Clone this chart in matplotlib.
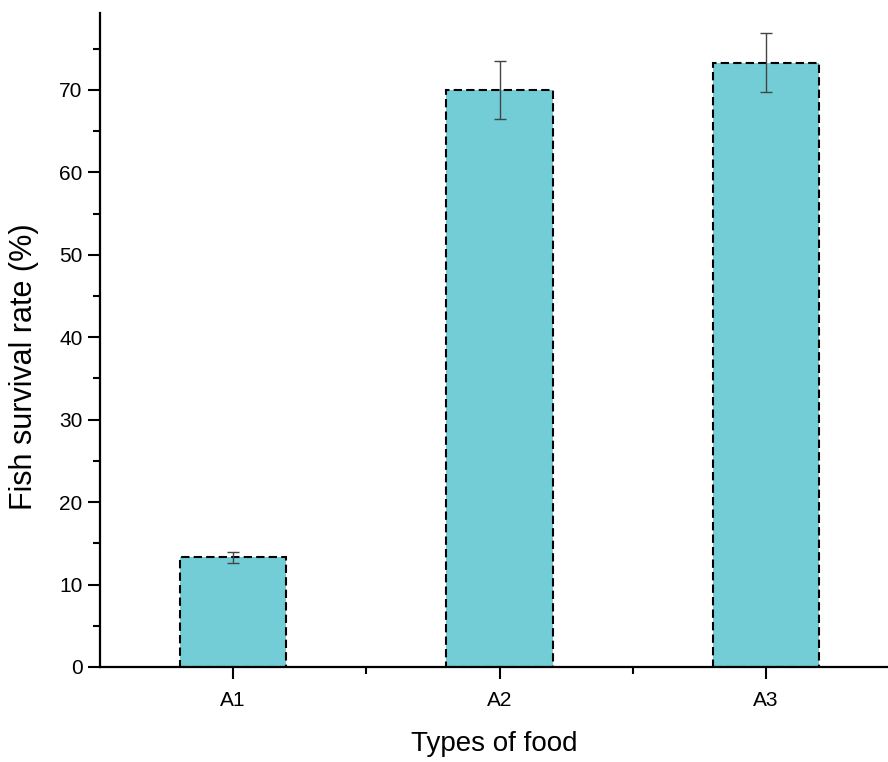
import matplotlib
matplotlib.use('Agg')
import matplotlib.pyplot as plt
from matplotlib.ticker import MultipleLocator, FixedLocator

plt.rcParams['font.family'] = ['Liberation Sans', 'DejaVu Sans']

foods = ['A1', 'A2', 'A3']
survival = [13.3, 70.0, 73.3]
errors = [0.7, 3.5, 3.6]

fig = plt.figure(figsize=(8.88, 7.62), dpi=100)
ax = fig.add_axes([0.1126, 0.1247, 0.8874, 0.858])

pos = [1, 2, 3]
ax.bar(pos, survival, width=0.4, color='#72cdd6', edgecolor='black',
       linestyle=(0, (4, 2)), linewidth=1.5, zorder=2)
ax.errorbar(pos, survival, yerr=errors, fmt='none', ecolor='#444444',
            elinewidth=1.0, capsize=4.5, capthick=1.0, zorder=3)

ax.set_xlim(0.5, 3.458)
ax.set_ylim(0, 79.3)
ax.set_xticks(pos)
ax.set_xticklabels(foods)
ax.xaxis.set_minor_locator(FixedLocator([1.5, 2.5]))
ax.yaxis.set_major_locator(MultipleLocator(10))
ax.yaxis.set_minor_locator(MultipleLocator(5))

for s in ['top', 'right']:
    ax.spines[s].set_visible(False)
for s in ['left', 'bottom']:
    ax.spines[s].set_linewidth(1.6)

ax.tick_params(which='major', length=8.5, width=1.5, labelsize=15, direction='out')
ax.tick_params(axis='x', which='major', pad=9)
ax.tick_params(axis='y', which='major', pad=4)
ax.tick_params(which='minor', length=5, width=1.5, direction='out')

ax.set_xlabel('Types of food', fontsize=20, labelpad=15)
ax.set_ylabel('Fish survival rate (%)', fontsize=22)
ax.yaxis.set_label_coords(-0.078, 0.46)

fig.savefig('out.png', dpi=100)
